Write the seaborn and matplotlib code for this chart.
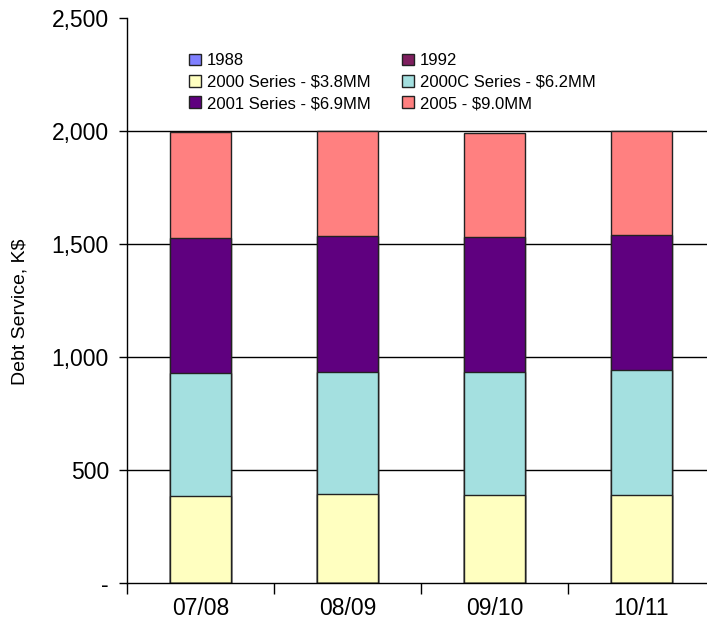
import matplotlib
matplotlib.use("Agg")
import matplotlib.pyplot as plt
import seaborn as sns
import pandas as pd
from matplotlib.ticker import FixedLocator

# data (K$)
years = ["07/08", "08/09", "09/10", "10/11"]
series = ["1988", "1992", "2000 Series - $3.8MM", "2000C Series - $6.2MM",
          "2001 Series - $6.9MM", "2005 - $9.0MM"]
s1988 = [0, 0, 0, 0]
s1992 = [0, 0, 0, 0]
s2000 = [386, 394, 390, 390]
s2000c = [545, 541, 545, 554]
s2001 = [594, 599, 594, 594]
s2005 = [470, 464, 461, 461]
colors = ["#8080ff", "#7f1f5f", "#ffffc0", "#a4e0e0", "#5f007f", "#ff8080"]

df = pd.DataFrame({"year": years, series[0]: s1988, series[1]: s1992,
                   series[2]: s2000, series[3]: s2000c,
                   series[4]: s2001, series[5]: s2005})
cum = df[series].cumsum(axis=1)

sns.set_theme(style="white")
plt.rcParams["font.family"] = ["Liberation Sans", "DejaVu Sans"]
plt.rcParams["text.color"] = "black"
plt.rcParams["axes.labelcolor"] = "black"

fig = plt.figure(figsize=(7.07, 6.23), dpi=100)
ax = fig.add_axes([127 / 707, 40 / 623, 588 / 707, 565 / 623])

# stacked look: draw cumulative totals from the top layer down
for name, col in reversed(list(zip(series, colors))):
    sns.barplot(x=df["year"], y=cum[name], color=col, saturation=1,
                width=0.41, edgecolor="#222222", linewidth=1,
                label=name, ax=ax)

ax.set_xlim(-0.5, 3.5)
ax.set_ylim(0, 2500)
ax.set_xlabel("")
ax.set_ylabel("Debt Service, K$", fontsize=14, color="black")
ax.yaxis.set_label_coords(-99 / 588, 0.48)

ax.set_yticks([0, 500, 1000, 1500, 2000, 2500])
ax.set_yticklabels(["-", "500", "1,000", "1,500", "2,000", "2,500"])
ax.yaxis.grid(True, color="black", linewidth=1)
ax.yaxis.get_gridlines()[-1].set_visible(False)
ax.yaxis.get_gridlines()[0].set_visible(False)
ax.set_axisbelow(True)

ax.tick_params(axis="y", left=True, direction="out", length=6, width=1,
               color="black", labelsize=16.5, pad=7, labelcolor="black")
ax.xaxis.set_minor_locator(FixedLocator([-0.5, 0.5, 1.5, 2.5]))
ax.tick_params(axis="x", which="major", bottom=False, labelsize=16.5,
               pad=4, labelcolor="black")
ax.tick_params(axis="x", which="minor", bottom=True, direction="out",
               length=8, width=1, color="black")

for side in ["top", "right"]:
    ax.spines[side].set_visible(False)
for side in ["left", "bottom"]:
    ax.spines[side].set_color("black")
    ax.spines[side].set_linewidth(1)

handles, labels = ax.get_legend_handles_labels()
if ax.get_legend() is not None:
    ax.get_legend().remove()
lookup = dict(zip(labels, handles))
order = [series[0], series[2], series[4], series[1], series[3], series[5]]
fig.legend([lookup[k] for k in order], order, ncol=2, frameon=False,
           loc="upper left", bbox_to_anchor=(181 / 707, 1 - 45 / 623),
           fontsize=12, handlelength=0.7, handleheight=0.7,
           handletextpad=0.35, columnspacing=1.9, labelspacing=0.38,
           borderpad=0, labelcolor="black")

fig.savefig("out.png", dpi=100)
